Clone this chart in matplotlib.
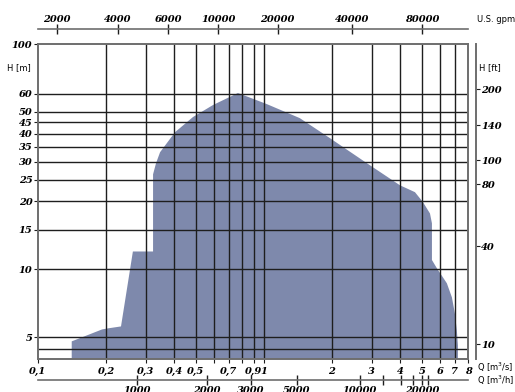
import matplotlib
matplotlib.use("Agg")
import matplotlib.pyplot as plt
from matplotlib.ticker import NullLocator

# operating envelope outline: flow Q [m3/s], head H [m]
env_q = [0.141, 0.141, 0.192, 0.204, 0.233, 0.263, 0.323, 0.323, 0.333, 0.347,
         0.404, 0.485, 0.595, 0.767, 1.03, 1.44, 1.96, 2.94, 4.00, 4.66,
         5.05, 5.43, 5.54, 5.54, 5.83, 6.45, 6.79, 7.00, 7.14, 7.22, 7.22]
env_h = [4.0, 4.79, 5.41, 5.47, 5.58, 12.0, 12.0, 26.4, 29.6, 33.1,
         40.6, 47.4, 53.6, 60.6, 54.1, 46.9, 38.2, 29.0, 23.6, 22.0,
         19.9, 17.7, 16.0, 11.0, 10.1, 8.67, 7.51, 6.37, 5.36, 4.59, 4.0]

# main scales
q_ticks = [0.1, 0.2, 0.3, 0.4, 0.5, 0.6, 0.7, 0.8, 0.9, 1, 2, 3, 4, 5, 6, 7, 8]
q_labels = ['0,1', '0,2', '0,3', '0,4', '0,5', '', '0,7', '', '0,9', '1',
            '2', '3', '4', '5', '6', '7', '8']
h_ticks = [5, 10, 15, 20, 25, 30, 35, 40, 45, 50, 60, 100]
h_lines = [4.45, 5, 10, 15, 20, 25, 30, 35, 40, 45, 50, 60]

# auxiliary scales (positions given in m3/s and m)
gpm_pos = [0.121, 0.225, 0.377, 0.628, 1.15, 2.46, 5.02]
gpm_labels = ['2000', '4000', '6000', '10000', '20000', '40000', '80000']
m3h_pos = [0.274, 0.559, 0.876, 1.40, 2.66, 3.36, 4.04, 4.56, 5.00, 5.32]
m3h_labels = ['1000', '2000', '3000', '5000', '10000', '', '', '', '20000', '']
ft_pos = [63.1, 43.6, 30.5, 23.9, 12.65, 4.64]
ft_labels = ['200', '140', '100', '80', '40', '10']

num_font = dict(fontfamily='DejaVu Serif', fontweight='bold', fontstyle='italic', fontsize=7.1)
unit_font = dict(family='DejaVu Sans', size=6.0)
spine_col = '#6e6e6e'
grid_col = '#1e1e1e'
fill_col = '#7e89ac'

W, H = 515, 392
fig = plt.figure(figsize=(W / 100, H / 100), dpi=100)
ax = fig.add_axes([38 / W, 33 / H, 430 / W, 315 / H])

ax.set_xscale('log')
ax.set_yscale('log')
ax.set_xlim(0.1, 8)
ax.set_ylim(4, 100)

ax.fill(env_q, env_h, color=fill_col, lw=0, zorder=1)

for q in q_ticks[1:-1]:
    ax.axvline(q, color=grid_col, lw=1.0, zorder=2)
for h in h_lines:
    ax.axhline(h, color=grid_col, lw=1.0, zorder=2)

for s in ax.spines.values():
    s.set_color(spine_col)
    s.set_linewidth(1.4)
    s.set_zorder(3)

ax.xaxis.set_minor_locator(NullLocator())
ax.yaxis.set_minor_locator(NullLocator())
ax.set_xticks(q_ticks, labels=q_labels)
ax.set_yticks(h_ticks, labels=[str(v) for v in h_ticks])
ax.tick_params(axis='x', length=3, width=0.8, color=grid_col, pad=3)
ax.tick_params(axis='y', length=3, width=0.8, color=grid_col, pad=1)
for lab in ax.get_xticklabels() + ax.get_yticklabels():
    lab.set(**num_font)

# U.S. gpm scale above the chart
top = ax.secondary_xaxis(1 + 15 / 315)
top.xaxis.set_minor_locator(NullLocator())
top.set_xticks(gpm_pos, labels=gpm_labels)
top.tick_params(direction='inout', length=7, width=1, color=grid_col, pad=0)
top.spines['top'].set_color(spine_col)
top.spines['top'].set_linewidth(1.2)
for lab in top.get_xticklabels():
    lab.set(**num_font)

# m3/h scale below the chart
bot = ax.secondary_xaxis(-21 / 315)
bot.xaxis.set_minor_locator(NullLocator())
bot.set_xticks(m3h_pos, labels=m3h_labels)
bot.tick_params(direction='inout', length=7, width=1, color=grid_col, pad=1)
bot.spines['bottom'].set_color(spine_col)
bot.spines['bottom'].set_linewidth(1.2)
for lab in bot.get_xticklabels():
    lab.set(**num_font)

# feet scale on the right
right = ax.secondary_yaxis(1 + 8 / 430)
right.yaxis.set_minor_locator(NullLocator())
right.set_yticks(ft_pos, labels=ft_labels)
right.tick_params(direction='out', length=3, width=0.8, color=grid_col, pad=0.5)
right.spines['right'].set_color(spine_col)
right.spines['right'].set_linewidth(1.4)
for lab in right.get_yticklabels():
    lab.set(**num_font)

fig.text(18.5 / W, 1 - 68 / H, 'H [m]', ha='center', va='center', **unit_font)
fig.text(479 / W, 1 - 67.5 / H, 'H [ft]', ha='left', va='center', **unit_font)
fig.text(477 / W, 1 - 19 / H, 'U.S. gpm', ha='left', va='center', **unit_font)
fig.text(477 / W, 1 - 367 / H, 'Q [m$^3$/s]', ha='left', va='center', **unit_font)
fig.text(477 / W, 1 - 380 / H, 'Q [m$^3$/h]', ha='left', va='center', **unit_font)

fig.savefig('out.png', dpi=100)
